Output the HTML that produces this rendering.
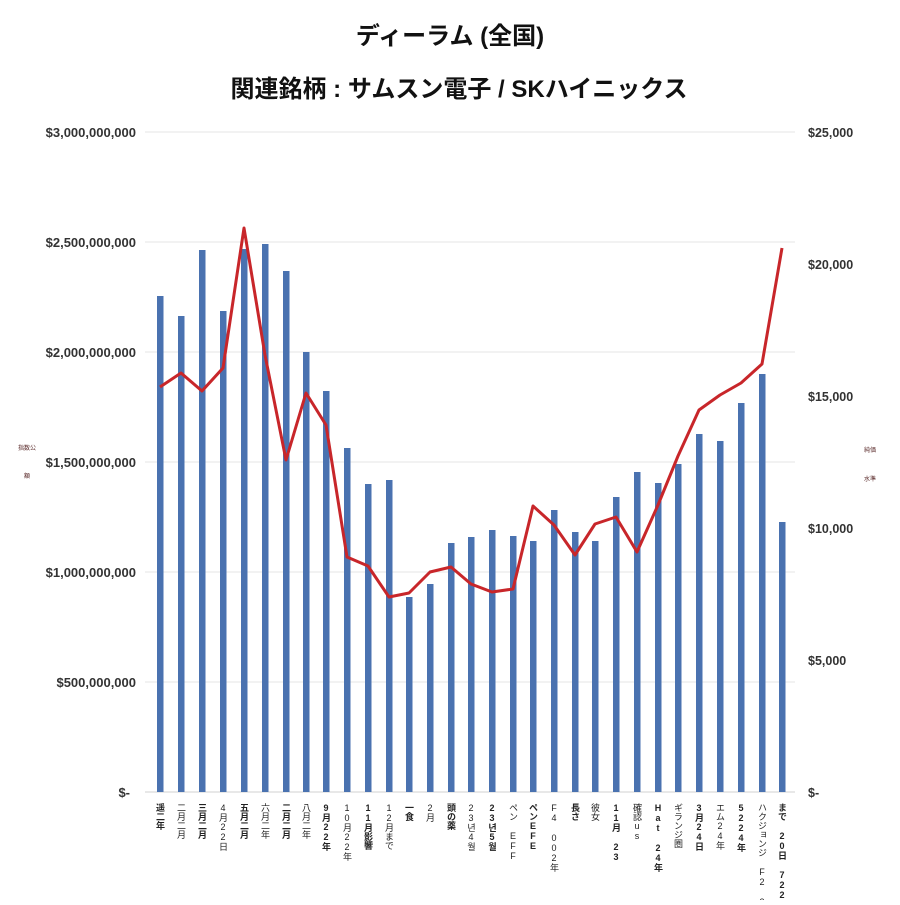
<!DOCTYPE html>
<html><head><meta charset="utf-8"><style>
body{margin:0;background:#fff}
svg text{font-family:"Liberation Sans","Noto Sans CJK JP",sans-serif}
.v{writing-mode:vertical-rl;text-orientation:upright}
</style></head><body>
<svg width="900" height="900" viewBox="0 0 900 900" xmlns="http://www.w3.org/2000/svg">
<rect width="900" height="900" fill="#fff"/>
<text x="450" y="44" text-anchor="middle" font-size="24" font-weight="bold" fill="#111">ディーラム (全国)</text>
<text x="459" y="97" text-anchor="middle" font-size="24" font-weight="bold" fill="#111">関連銘柄 : サムスン電子 / SKハイニックス</text>
<g stroke="#e4e4e4" stroke-width="1">
<line x1="145" y1="132" x2="795" y2="132"/><line x1="145" y1="242" x2="795" y2="242"/>
<line x1="145" y1="352" x2="795" y2="352"/><line x1="145" y1="462" x2="795" y2="462"/>
<line x1="145" y1="572" x2="795" y2="572"/><line x1="145" y1="682" x2="795" y2="682"/>
<line x1="145" y1="792" x2="795" y2="792" stroke="#d0d0d0"/>
</g>
<g font-size="13" font-weight="bold" fill="#333" text-anchor="end">
<text x="136" y="137">$3,000,000,000</text><text x="136" y="247">$2,500,000,000</text>
<text x="136" y="357">$2,000,000,000</text><text x="136" y="467">$1,500,000,000</text>
<text x="136" y="577">$1,000,000,000</text><text x="136" y="687">$500,000,000</text>
<text x="130" y="797">$-</text>
</g>
<g font-size="12.5" font-weight="bold" fill="#333">
<text x="808" y="137">$25,000</text><text x="808" y="269">$20,000</text>
<text x="808" y="401">$15,000</text><text x="808" y="533">$10,000</text>
<text x="808" y="665">$5,000</text><text x="808" y="797">$-</text>
</g>
<g font-size="6" fill="#5a2a2a"><text x="18" y="450">指数公</text><text x="24" y="478">額</text>
<text x="864" y="452">純価</text><text x="864" y="481">水準</text></g>
<g fill="#4a72b0" id="bars"></g>
<polyline fill="none" stroke="#c8262a" stroke-width="3" stroke-linejoin="round" points="160,387 181,373 202,391 223,368 244,228 265,355 286,460 306,393 326,425 347,557 368,566 389,597 409,593 430,572 451,567 471,584 492,592 513,589 533,506 554,525 575,555 595,524 616,517 637,552 658,505 678,456 699,410 720,395 741,383 762,364 782,248"/>
<g id="labels" font-size="9" fill="#222"></g>
</svg>
<script>
var xs=[160,181,202,223,244,265,286,306,326,347,368,389,409,430,451,471,492,513,533,554,575,595,616,637,658,678,699,720,741,762,782];
var tops=[296,316,250,311,249,244,271,352,391,448,484,480,597,584,543,537,530,536,541,510,532,541,497,472,483,464,434,441,403,374,522];
var labs=["遥二年","二月二月","三月二月","4月22日","五月二月","六月二年","二月二月","八月二年","9月22年","10月22年","11月影響","12月まで","一食","2月","頭の薬","23년4월","23년5월","ペン EFF","ペンEFE","F4 002年","長さ","彼女","11月 23","確認us","Hat 24年","ギランジ圏","3月24日","エム24年","5224年","ハクジョンジ F2 24年","まで 20日 7224年"];
var ns="http://www.w3.org/2000/svg",b=document.getElementById("bars"),l=document.getElementById("labels");
for(var i=0;i<xs.length;i++){var r=document.createElementNS(ns,"rect");r.setAttribute("x",xs[i]-3);r.setAttribute("y",tops[i]);r.setAttribute("width",6.5);r.setAttribute("height",792-tops[i]);b.appendChild(r);
var t=document.createElementNS(ns,"text");t.setAttribute("x",xs[i]);t.setAttribute("y",803);t.setAttribute("class","v");t.setAttribute("font-weight",i%2?"normal":"bold");t.textContent=labs[i];l.appendChild(t);}
</script>
</body></html>
